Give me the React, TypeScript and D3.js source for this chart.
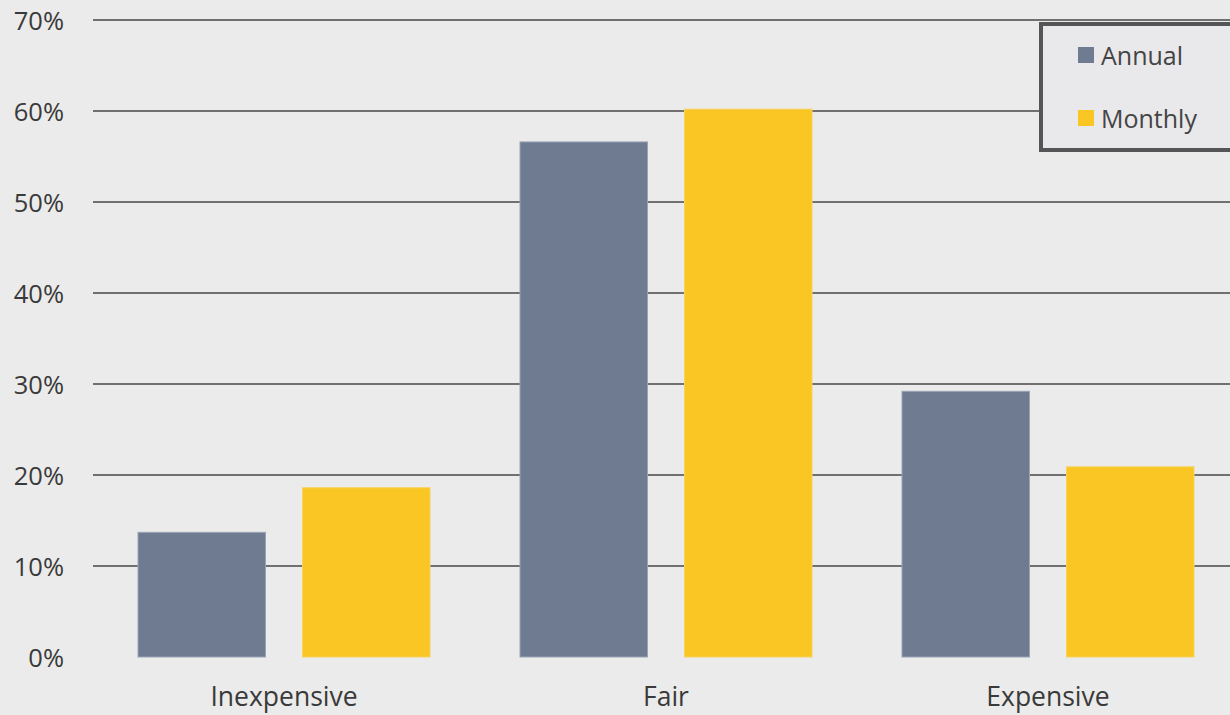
import React from "react";
import * as d3 from "d3";

const categories = ["Inexpensive", "Fair", "Expensive"];
const seriesNames = ["Annual", "Monthly"];
const annualValues = [13.7, 56.6, 29.2];
const monthlyValues = [18.6, 60.2, 20.9];
const yTicks = [0, 10, 20, 30, 40, 50, 60, 70];
const colors = ["#6e7b91", "#f9c623"];

const W = 1230;
const H = 715;

export default function App() {
  const y = d3.scaleLinear().domain([0, 70]).range([657, 20]);
  const x0 = d3
    .scaleBand<string>()
    .domain(categories)
    .range([93, 1239])
    .paddingInner(0.2356)
    .paddingOuter(0.1178);
  const x1 = d3
    .scaleBand<string>()
    .domain(seriesNames)
    .range([0, x0.bandwidth()])
    .paddingInner(0.225)
    .paddingOuter(0);
  const values = [annualValues, monthlyValues];
  const font = "'Open Sans', 'Noto Sans', sans-serif";

  return (
    <svg
      width={W}
      height={H}
      style={{ position: "absolute", left: 0, top: 0, background: "#eaebea" }}
      fontFamily={font}
    >
      <rect x={0} y={0} width={W} height={H} fill="#eaebea" />
      {yTicks.map((t) => (
        <g key={t}>
          {t > 0 && (
            <line x1={93} x2={W} y1={y(t)} y2={y(t)} stroke="#707070" strokeWidth={2} />
          )}
          <text
            x={64}
            y={y(t)}
            textAnchor="end"
            dominantBaseline="central"
            fontSize={25.5}
            fill="#3a3a3a"
          >
            {t}%
          </text>
        </g>
      ))}
      {categories.map((c, ci) => (
        <g key={c} transform={`translate(${x0(c)},0)`}>
          {seriesNames.map((s, si) => (
            <rect
              key={s}
              x={x1(s)}
              y={y(values[si][ci])}
              width={x1.bandwidth()}
              height={y(0) - y(values[si][ci])}
              fill={colors[si]}
              stroke={si === 0 ? "#9aa4b6" : "#f7d35e"}
              strokeWidth={1}
            />
          ))}
          <text
            x={x0.bandwidth() / 2}
            y={706}
            textAnchor="middle"
            fontSize={26.5}
            fill="#3a3a3a"
          >
            {c}
          </text>
        </g>
      ))}
      <g>
        <rect x={1041} y={24} width={200} height={126} fill="#e9e8ea" stroke="#555" strokeWidth={4} />
        {seriesNames.map((s, si) => (
          <g key={s} transform={`translate(1078,${55 + si * 63})`}>
            <rect x={0} y={-8} width={16} height={16} fill={colors[si]} />
            <text x={23} y={0} dominantBaseline="central" fontSize={25} fill="#444">
              {s}
            </text>
          </g>
        ))}
      </g>
    </svg>
  );
}
